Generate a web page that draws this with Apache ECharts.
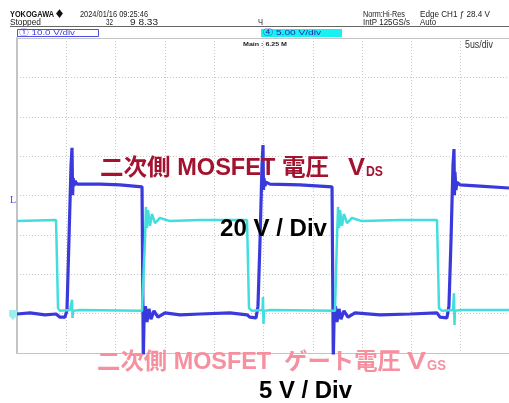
<!DOCTYPE html>
<html>
<head>
<meta charset="utf-8">
<script src="https://cdn.jsdelivr.net/npm/echarts@6/dist/echarts.min.js"></script>
<style>
html,body{margin:0;padding:0;background:#fff;}
#c{width:509px;height:403px;}
</style>
</head>
<body>
<div id="c"></div>
<script>
// ---- Data (time in µs, amplitude in divisions) ----
const vdsTime = [0,1.32,2.84,3.96,4.36,4.87,5.07,5.27,5.48,5.58,5.64,5.70,5.78,5.88,6.09,8.42,10.45,12.68,12.78,12.81,12.88,13.03,13.18,13.39,13.59,13.89,14.30,15.01,16.53,18.56,21.6,23.33,23.63,24.24,24.44,24.65,24.85,24.95,25.0,25.05,25.15,25.25,25.66,28.7,31.95,32.05,32.08,32.15,32.30,32.45,32.66,32.86,33.16,33.57,34.28,36.82,39.86,42.6,42.9,43.6,43.81,44.02,44.22,44.32,44.37,44.42,44.52,44.62,44.93,46.96,49.9];
const vdsDiv  = [-3.01,-2.98,-3.03,-3.01,-3.09,-3.09,-2.91,-1.13,0.77,1.21,0.01,0.44,0.24,0.37,0.29,0.29,0.27,0.22,0.22,-4.18,-3.21,-2.81,-3.21,-2.88,-3.14,-2.93,-3.09,-2.98,-3.03,-3.01,-2.98,-3.03,-3.09,-3.11,-2.81,-1.13,0.77,1.28,0.14,0.44,0.24,0.34,0.29,0.27,0.22,0.22,-4.18,-3.21,-2.81,-3.21,-2.88,-3.14,-2.93,-3.09,-2.98,-3.03,-3.01,-2.98,-3.09,-3.11,-2.81,-1.13,0.77,1.18,0.01,0.60,0.14,0.34,0.27,0.24,0.19];
const vgsTime = [0,3.96,4.06,4.16,4.36,5.38,5.53,5.58,5.63,5.68,6.39,12.68,12.88,12.98,13.08,13.18,13.29,13.49,13.69,14.0,14.5,15.52,18.56,23.33,23.43,23.53,23.83,24.9,24.95,25.0,25.05,25.66,32.25,32.35,32.45,32.56,32.66,32.76,32.96,33.16,33.47,33.98,34.99,38.84,42.6,42.7,42.8,43.1,44.22,44.32,44.37,44.42,44.93,49.9];
const vgsDiv  = [-0.65,-0.62,-0.67,-2.86,-2.93,-2.91,-2.91,-2.65,-3.11,-2.93,-2.91,-2.93,-2.91,-1.13,-0.29,-0.83,-0.37,-0.77,-0.47,-0.70,-0.57,-0.65,-0.62,-0.62,-0.67,-2.86,-2.93,-2.91,-2.58,-3.26,-2.93,-2.91,-2.93,-2.91,-1.13,-0.29,-0.83,-0.37,-0.77,-0.47,-0.70,-0.57,-0.65,-0.62,-0.62,-0.67,-2.86,-2.93,-2.91,-2.48,-3.29,-2.93,-2.91,-2.91];

const title1 = '二次側 MOSFET 電圧';
const title1V = 'V', title1Sub = 'DS';
const scale1 = '20 V / Div';
const title2 = '二次側 MOSFET  ゲート電圧';
const title2V = 'V', title2Sub = 'GS';
const scale2 = '5 V / Div';

const zip = (a, b) => a.map((v, i) => [v, b[i]]);

const measureCtx = document.createElement('canvas').getContext('2d');
function txt(text, x, y, font, color, targetW, extra) {
  let sx = 1;
  if (targetW) {
    measureCtx.font = font;
    const w = measureCtx.measureText(text).width;
    if (w > 0) sx = targetW / w;
  }
  return Object.assign({
    type: 'text', x: x, y: y, scaleX: sx, z: 100,
    style: { text: text, font: font, fill: color, align: 'left', verticalAlign: 'middle' }
  }, extra || {});
}

const SANS = "'Liberation Sans', 'Noto Sans CJK JP', sans-serif";
const bigFont = 'bold 23px ' + SANS;
const subFont = 'bold 15px ' + SANS;
const scaleFont = 'bold 24px ' + SANS;
const hdr = '9px ' + SANS;

const graphics = [
  // header
  txt('YOKOGAWA', 10, 15, 'bold 9px ' + SANS, '#111', 44),
  txt('◆', 56, 15, '9px ' + SANS, '#111', 7),
  txt('2024/01/16 09:25:46', 80, 15, hdr, '#222', 68),
  txt('Stopped', 10, 23, hdr, '#222', 31),
  txt('32', 106, 23, hdr, '#222', 7),
  txt('9 8.33', 130, 23, hdr, '#222', 28),
  txt('Ч', 258, 23, hdr, '#222', 5),
  txt('Norm:Hi-Res', 363, 15, hdr, '#222', 42),
  txt('IntP 125GS/s', 363, 23, hdr, '#222', 47),
  txt('Edge CH1 ƒ 28.4 V', 420, 15, hdr, '#222', 70),
  txt('Auto', 420, 23, hdr, '#222', 16),
  { type: 'line', shape: { x1: 10, y1: 26.5, x2: 509, y2: 26.5 }, style: { stroke: '#666', lineWidth: 1 }, z: 100 },
  { type: 'line', shape: { x1: 17, y1: 38.5, x2: 509, y2: 38.5 }, style: { stroke: '#c4c4c4', lineWidth: 1 }, z: 100 },
  { type: 'rect', shape: { x: 17.5, y: 29.5, width: 81, height: 7 }, style: { fill: '#fff', stroke: '#5050e0', lineWidth: 1 }, z: 100 },
  txt('① 10.0 V/div', 19, 33, '8px ' + SANS, '#4040e0', 56, { z: 101 }),
  { type: 'rect', shape: { x: 261, y: 29, width: 81, height: 8 }, style: { fill: '#19f0f0' }, z: 100 },
  txt('④ 5.00 V/div', 263, 33, '8px ' + SANS, '#2828b0', 58, { z: 101 }),
  txt('Main : 6.25 M', 243, 44, 'bold 6px ' + SANS, '#222', 44),
  txt('5us/div', 465, 45.5, '10px ' + SANS, '#333', 28),
  // channel markers
  txt('L', 10, 200, '10px "Liberation Serif", serif', '#4a4ae0', 6),
  { type: 'polygon', shape: { points: [[9, 310], [17, 310], [17, 316], [13, 320], [9, 316]] }, style: { fill: '#9feeee' }, z: 100 },
  // annotations
  txt(title1, 100, 169, bigFont, '#a3122e', 229),
  txt(title1V, 348, 169, bigFont, '#a3122e', 17),
  txt(title1Sub, 366, 171.8, subFont, '#a3122e', 17),
  txt(scale1, 220, 229.7, scaleFont, '#000', 107),
  txt(title2, 97, 363, bigFont, '#f6909f', 304),
  txt(title2V, 407, 363, bigFont, '#f6909f', 19),
  txt(title2Sub, 427, 365.8, subFont, '#f6909f', 19),
  txt(scale2, 259, 391.7, scaleFont, '#000', 93)
];

const chart = echarts.init(document.getElementById('c'), null, { renderer: 'canvas' });
chart.setOption({
  animation: false,
  backgroundColor: '#fff',
  grid: { left: 17, top: 38, width: 492, height: 315, show: false, outerBoundsMode: 'none', containLabel: false },
  xAxis: {
    type: 'value', min: 0, max: 49.9, interval: 5,
    axisLine: { show: true, onZero: false, lineStyle: { color: '#c4c4c4', width: 1 } },
    axisTick: { show: false }, axisLabel: { show: false },
    splitLine: { show: true, showMaxLine: false, lineStyle: { color: '#c8c8c8', width: 1, type: [1, 2] } }
  },
  yAxis: {
    type: 'value', min: -4, max: 4, interval: 1,
    axisLine: { show: true, onZero: false, lineStyle: { color: '#c4c4c4', width: 2 } },
    axisTick: { show: false }, axisLabel: { show: false },
    splitLine: { show: true, lineStyle: { color: '#c8c8c8', width: 1, type: [1, 2] } }
  },
  series: [
    { name: 'VDS', type: 'line', data: zip(vdsTime, vdsDiv), showSymbol: false, clip: true,
      lineStyle: { color: '#3a3adc', width: 3.2 }, z: 2 },
    { name: 'VGS', type: 'line', data: zip(vgsTime, vgsDiv), showSymbol: false, clip: true,
      lineStyle: { color: '#42dede', width: 2.5 }, z: 3 }
  ],
  graphic: graphics
});
</script>
</body>
</html>
